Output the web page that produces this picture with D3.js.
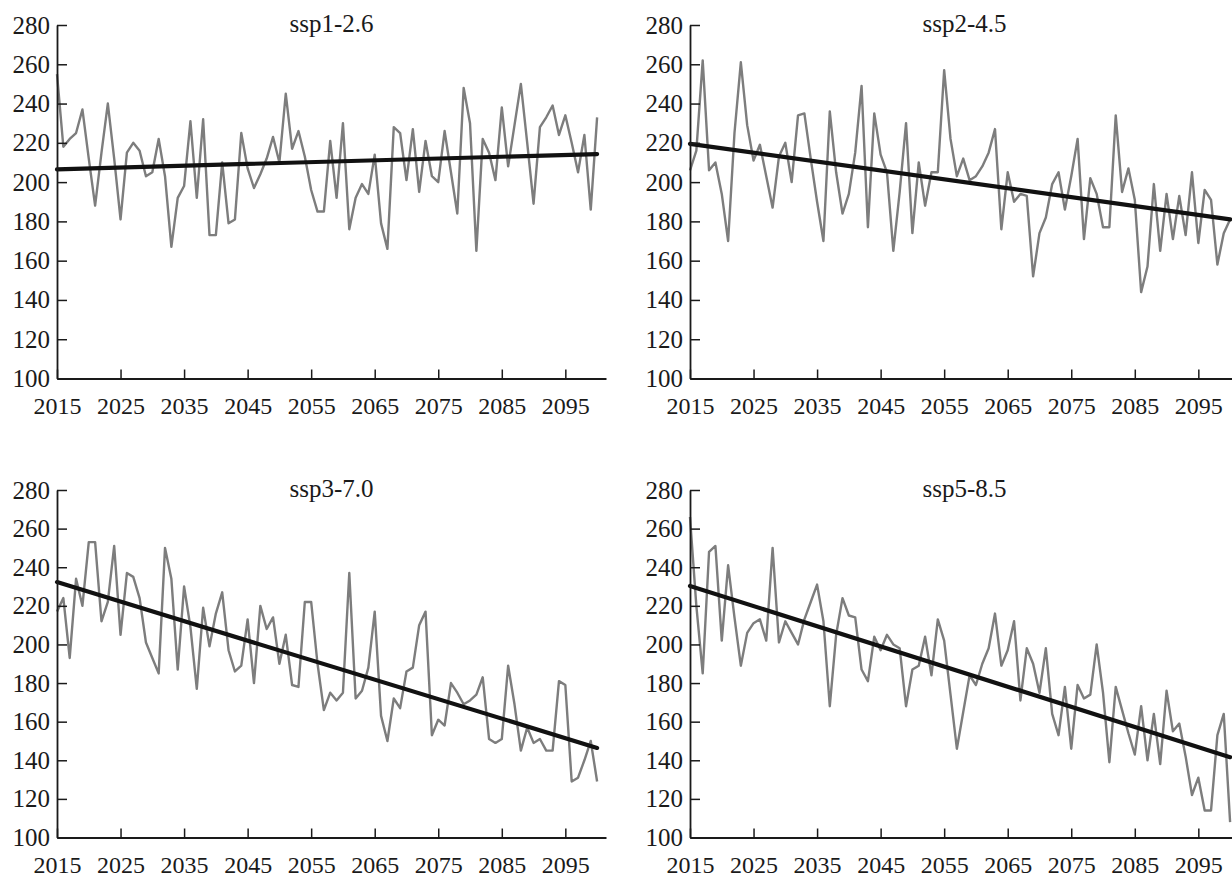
<!DOCTYPE html>
<html>
<head>
<meta charset="utf-8">
<script src="https://cdn.jsdelivr.net/npm/d3@7"></script>
<style>
  html, body { margin: 0; padding: 0; background: #ffffff; }
  svg { display: block; }
  text { font-family: "Liberation Serif", "Times New Roman", serif; fill: #1a1a1a; }
</style>
</head>
<body>
<svg id="chart" width="1232" height="878"></svg>
<script>
// ---------- data ----------
const years = [2015,2016,2017,2018,2019,2020,2021,2022,2023,2024,2025,2026,2027,2028,2029,2030,2031,2032,2033,2034,
  2035,2036,2037,2038,2039,2040,2041,2042,2043,2044,2045,2046,2047,2048,2049,2050,2051,2052,2053,2054,
  2055,2056,2057,2058,2059,2060,2061,2062,2063,2064,2065,2066,2067,2068,2069,2070,2071,2072,2073,2074,
  2075,2076,2077,2078,2079,2080,2081,2082,2083,2084,2085,2086,2087,2088,2089,2090,2091,2092,2093,2094,
  2095,2096,2097,2098,2099,2100];

const xTickLabels = [2015, 2025, 2035, 2045, 2055, 2065, 2075, 2085, 2095];
const yTickLabels = [100, 120, 140, 160, 180, 200, 220, 240, 260, 280];

const scenarioNames = ["ssp1-2.6", "ssp2-4.5", "ssp3-7.0", "ssp5-8.5"];

const ssp126 = [255,218,222,225,237,212,188,215,240,212,181,215,220,216,203,205,222,203,167,192,
  198,231,192,232,173,173,210,179,181,225,207,197,204,212,223,210,245,217,226,213,
  196,185,185,221,192,230,176,192,199,194,214,179,166,228,225,201,227,195,221,203,
  200,226,205,184,248,230,165,222,215,201,238,208,229,250,220,189,228,233,239,224,
  234,220,205,224,186,233];

const ssp245 = [206,216,262,206,210,194,170,225,261,229,211,219,203,187,213,220,200,234,235,212,
  190,170,236,205,184,194,215,249,177,235,214,205,165,195,230,174,210,188,205,205,
  257,222,203,212,201,203,208,215,227,176,205,190,194,193,152,174,182,199,205,186,
  203,222,171,202,194,177,177,234,195,207,191,144,157,199,165,194,171,193,173,205,
  169,196,191,158,174,181];

const ssp370 = [217,224,193,234,220,253,253,212,222,251,205,237,235,224,201,193,185,250,234,187,
  230,209,177,219,199,216,227,197,186,189,213,180,220,208,214,190,205,179,178,222,
  222,190,166,175,171,175,237,172,176,188,217,163,150,172,167,186,188,210,217,153,
  161,158,180,175,169,171,174,183,151,149,151,189,169,145,157,149,151,145,145,181,
  179,129,131,140,150,129];

const ssp585 = [266,220,185,248,251,202,241,214,189,206,211,213,202,250,201,212,206,200,213,222,
  231,212,168,205,224,215,214,187,181,204,197,205,200,198,168,187,189,204,184,213,
  202,174,146,165,184,179,190,198,216,189,197,212,171,198,190,175,198,164,153,178,
  146,179,172,174,200,175,139,178,166,154,143,168,140,164,138,176,155,159,142,122,
  131,114,114,153,164,108];

// linear trend: value at 2015 and at 2100
const trend126 = [206.5, 214.3];
const trend245 = [219.5, 181.0];
const trend370 = [232.3, 146.4];
const trend585 = [230.3, 141.6];

const seriesList = [ssp126, ssp245, ssp370, ssp585];
const trendList = [trend126, trend245, trend370, trend585];

// ---------- layout ----------
const panelOrigins = [[57, 25], [690, 25], [57, 490], [690, 490]];
const panelHeights = [353.5, 353.5, 347.5, 347.5];
const axisW = 549;

const svg = d3.select("#chart");

const x = d3.scaleLinear().domain([2015, 2101.4]).range([0, axisW]);

seriesList.forEach((vals, p) => {
  const [ox, oy] = panelOrigins[p];
  const plotH = panelHeights[p];
  const y = d3.scaleLinear().domain([100, 280]).range([plotH, 0]);
  const g = svg.append("g").attr("transform", `translate(${ox},${oy})`);

  // data line
  const line = d3.line().x((d, i) => x(years[i])).y(d => y(d));
  g.append("path")
    .datum(vals)
    .attr("d", line)
    .attr("fill", "none")
    .attr("stroke", "#7d7d7d")
    .attr("stroke-width", 2.4)
    .attr("stroke-linejoin", "round");

  // trend line
  const tr = trendList[p];
  const trendPts = [[years[0], tr[0]], [years[years.length - 1], tr[1]]];
  g.append("path")
    .datum(trendPts)
    .attr("d", d3.line().x(d => x(d[0])).y(d => y(d[1])))
    .attr("fill", "none")
    .attr("stroke", "#111111")
    .attr("stroke-width", 4.2)
    .attr("stroke-linecap", "round");

  // y axis
  const yAxis = d3.axisLeft(y)
    .tickValues(yTickLabels)
    .tickFormat(d3.format("d"))
    .tickSizeInner(-10)
    .tickSizeOuter(0)
    .tickPadding(7);
  const ya = g.append("g").call(yAxis);
  ya.select(".domain").attr("stroke", "#1a1a1a").attr("stroke-width", 1.8);
  ya.selectAll(".tick line").attr("stroke", "#1a1a1a").attr("stroke-width", 1.5);
  ya.selectAll(".tick text").style("font-size", "25px").style("font-family", "'Liberation Serif', serif").attr("fill", "#1a1a1a");

  // x axis
  const xAxis = d3.axisBottom(x)
    .tickValues(xTickLabels)
    .tickFormat(d3.format("d"))
    .tickSizeInner(-9)
    .tickSizeOuter(0)
    .tickPadding(18);
  const xa = g.append("g").attr("transform", `translate(0,${plotH})`).call(xAxis);
  xa.select(".domain").attr("stroke", "#1a1a1a").attr("stroke-width", 1.8);
  xa.selectAll(".tick line").attr("stroke", "#1a1a1a").attr("stroke-width", 1.5);
  xa.selectAll(".tick text").style("font-size", "24px").style("font-family", "'Liberation Serif', serif").attr("fill", "#1a1a1a");

  // title
  g.append("text")
    .attr("x", axisW / 2)
    .attr("y", 7)
    .attr("text-anchor", "middle")
    .style("font-size", "25px")
    .text(scenarioNames[p]);
});
</script>
</body>
</html>
